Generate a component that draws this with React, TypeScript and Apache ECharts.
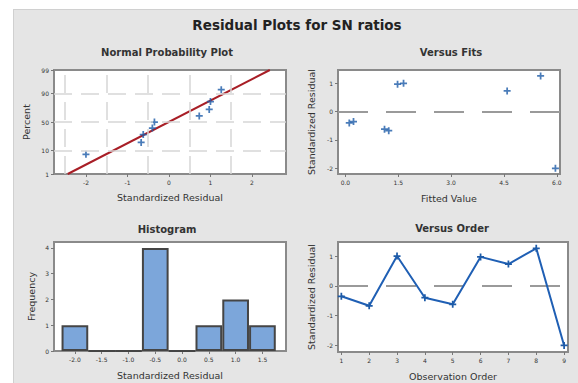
import React, { useEffect, useRef } from "react";
import * as echarts from "echarts";

// ---- data ----
const observationOrder = [1, 2, 3, 4, 5, 6, 7, 8, 9];
const residuals = [-0.35, -0.67, 1.0, -0.4, -0.62, 0.97, 0.73, 1.26, -2.0];
const fittedValues = [0.23, 1.23, 1.65, 0.11, 1.11, 1.48, 4.59, 5.54, 5.96];

const normalResiduals = [-2.0, -0.67, -0.62, -0.4, -0.35, 0.73, 0.97, 1.0, 1.26];
const normalPercents = [7.4, 18.1, 28.7, 39.4, 50.0, 60.6, 71.3, 81.9, 92.6];
const fitLineResiduals = [-2.44, 2.43];
const fitLinePercents = [1, 99];

const binCenters = [-2.0, -1.5, -1.0, -0.5, 0.0, 0.5, 1.0, 1.5];
const frequencies = [1, 0, 0, 4, 0, 1, 2, 1];

const percentTicks = [1, 10, 50, 90, 99];
const normalXTicks = [-2, -1, 0, 1, 2];
const fitXTicks = [0, 1.5, 3.0, 4.5, 6.0];
const residualTicks = [-2, -1, 0, 1];
const histXTicks = [-2.0, -1.5, -1.0, -0.5, 0.0, 0.5, 1.0, 1.5];
const frequencyTicks = [0, 1, 2, 3, 4];

// inverse standard normal CDF (probability-paper axis transform)
function probit(p: number): number {
  const a = [-3.969683028665376e1, 2.209460984245205e2, -2.759285104469687e2, 1.38357751867269e2, -3.066479806614716e1, 2.506628277459239];
  const b = [-5.447609879822406e1, 1.615858368580409e2, -1.556989798598866e2, 6.680131188771972e1, -1.328068155288572e1];
  const c = [-7.784894002430293e-3, -3.223964580411365e-1, -2.400758277161838, -2.549732539343734, 4.374664141464968, 2.938163982698783];
  const d = [7.784695709041462e-3, 3.224671290700398e-1, 2.445134137142996, 3.754408661907416];
  const pl = 0.02425;
  if (p < pl) {
    const q = Math.sqrt(-2 * Math.log(p));
    return (((((c[0] * q + c[1]) * q + c[2]) * q + c[3]) * q + c[4]) * q + c[5]) / ((((d[0] * q + d[1]) * q + d[2]) * q + d[3]) * q + 1);
  }
  if (p > 1 - pl) {
    const q = Math.sqrt(-2 * Math.log(1 - p));
    return -(((((c[0] * q + c[1]) * q + c[2]) * q + c[3]) * q + c[4]) * q + c[5]) / ((((d[0] * q + d[1]) * q + d[2]) * q + d[3]) * q + 1);
  }
  const q = p - 0.5;
  const r = q * q;
  return ((((((a[0] * r + a[1]) * r + a[2]) * r + a[3]) * r + a[4]) * r + a[5]) * q) / (((((b[0] * r + b[1]) * r + b[2]) * r + b[3]) * r + b[4]) * r + 1);
}
const z = (pct: number) => probit(pct / 100);

const FONT = "DejaVu Sans";
const TXT = "#333333";
const BLUE = "#1d5ba8";
const PLUS = "path://M3,0h2v3h3v2h-3v3h-2v-3h-3v-2h3z";

const gridBox = {
  show: true,
  backgroundColor: "#ffffff",
  borderColor: "#8a8a8a",
  borderWidth: 2,
};

const tickLabel = { fontSize: 6, color: TXT, fontFamily: FONT, margin: 5 };
const tickStyle = { show: true, length: 3, lineStyle: { color: "#777", width: 1 } };
const nameStyle = { fontSize: 9.5, color: TXT, fontFamily: FONT };

function xAxisBase(gridIndex: number, min: number, max: number, ticks: number[], fmt: (v: number) => string, name: string, gap: number) {
  return {
    type: "value",
    gridIndex,
    min,
    max,
    position: "bottom",
    axisLine: { show: false, onZero: false },
    axisTick: { ...tickStyle, customValues: ticks },
    axisLabel: { ...tickLabel, customValues: ticks, formatter: (v: number) => fmt(v) },
    splitLine: { show: false },
    name,
    nameLocation: "middle",
    nameGap: gap,
    nameTextStyle: nameStyle,
  };
}
function yAxisBase(gridIndex: number, min: number, max: number, ticks: number[], fmt: (v: number) => string, name: string, gap: number) {
  return {
    type: "value",
    gridIndex,
    min,
    max,
    position: "left",
    axisLine: { show: false, onZero: false },
    axisTick: { ...tickStyle, customValues: ticks },
    axisLabel: { ...tickLabel, customValues: ticks, formatter: (v: number) => fmt(v) },
    splitLine: { show: false },
    name,
    nameLocation: "middle",
    nameRotate: 90,
    nameGap: gap,
    nameTextStyle: nameStyle,
  };
}

function pctLabel(v: number): string {
  let best = percentTicks[0];
  for (const p of percentTicks) if (Math.abs(z(p) - v) < Math.abs(z(best) - v)) best = p;
  return String(best);
}

export default function App() {
  const ref = useRef<HTMLDivElement>(null);
  useEffect(() => {
    if (!ref.current) return;
    const chart = echarts.init(ref.current, undefined, { renderer: "svg" });
    const gridDash = { color: "#d6d6d6", width: 1.5, type: [18, 9] as any };
    const zeroLine = { color: "#9a9a9a", width: 2, type: [30, 18] as any };

    const option: any = {
      animation: false,
      textStyle: { fontFamily: FONT },
      graphic: [
        { type: "text", x: 297, y: 25, style: { text: "Residual Plots for SN ratios", font: `bold 13.5px ${FONT}`, fill: "#222", align: "center", verticalAlign: "middle" } },
        { type: "text", x: 167, y: 52, style: { text: "Normal Probability Plot", font: `bold 10px ${FONT}`, fill: "#333", align: "center", verticalAlign: "middle" } },
        { type: "text", x: 451, y: 52, style: { text: "Versus Fits", font: `bold 10px ${FONT}`, fill: "#333", align: "center", verticalAlign: "middle" } },
        { type: "text", x: 167, y: 229, style: { text: "Histogram", font: `bold 10px ${FONT}`, fill: "#333", align: "center", verticalAlign: "middle" } },
        { type: "text", x: 452, y: 228, style: { text: "Versus Order", font: `bold 10px ${FONT}`, fill: "#333", align: "center", verticalAlign: "middle" } },
      ],
      grid: [
        { ...gridBox, left: 54, top: 70, width: 232, height: 104 },
        { ...gridBox, left: 338, top: 70, width: 222, height: 104 },
        { ...gridBox, left: 54, top: 242, width: 232, height: 109 },
        { ...gridBox, left: 338, top: 242, width: 230, height: 110 },
      ],
      xAxis: [
        xAxisBase(0, -2.77, 2.82, normalXTicks, (v) => String(Math.round(v)), "Standardized Residual", 18),
        xAxisBase(1, -0.21, 6.09, fitXTicks, (v) => v.toFixed(1), "Fitted Value", 19.5),
        xAxisBase(2, -2.39, 1.94, histXTicks, (v) => v.toFixed(1), "Standardized Residual", 19),
        xAxisBase(3, 0.88, 9.14, observationOrder, (v) => String(Math.round(v)), "Observation Order", 19),
      ],
      yAxis: [
        yAxisBase(0, z(1), z(99), percentTicks.map(z), pctLabel, "Percent", 23),
        yAxisBase(1, -2.2, 1.47, residualTicks, (v) => String(Math.round(v)), "Standardized Residual", 22),
        yAxisBase(2, 0, 4.23, frequencyTicks, (v) => String(Math.round(v)), "Frequency", 18),
        yAxisBase(3, -2.22, 1.47, residualTicks, (v) => String(Math.round(v)), "Standardized Residual", 22),
      ],
      series: [
        {
          type: "line",
          xAxisIndex: 0,
          yAxisIndex: 0,
          data: [],
          silent: true,
          markLine: {
            silent: true,
            symbol: "none",
            label: { show: false },
            lineStyle: gridDash,
            data: [
              ...[10, 50, 90].map((p) => ({ yAxis: z(p) })),
              ...[-2.5, -1.5, -0.5, 0.5, 1.5].map((x) => ({ xAxis: x })),
            ],
          },
        },
        {
          type: "line",
          xAxisIndex: 0,
          yAxisIndex: 0,
          data: fitLineResiduals.map((r, i) => [r, z(fitLinePercents[i])]),
          showSymbol: false,
          lineStyle: { color: "#a81e26", width: 2 },
          z: 3,
        },
        {
          type: "scatter",
          xAxisIndex: 0,
          yAxisIndex: 0,
          data: normalResiduals.map((r, i) => [r, z(normalPercents[i])]),
          symbol: PLUS,
          symbolSize: 7,
          itemStyle: { color: BLUE },
          z: 4,
        },
        {
          type: "scatter",
          xAxisIndex: 1,
          yAxisIndex: 1,
          data: fittedValues.map((f, i) => [f, residuals[i]]),
          symbol: PLUS,
          symbolSize: 7,
          itemStyle: { color: BLUE },
          z: 4,
          markLine: {
            silent: true,
            symbol: "none",
            label: { show: false },
            lineStyle: zeroLine,
            data: [{ yAxis: 0 }],
          },
        },
        {
          type: "bar",
          xAxisIndex: 2,
          yAxisIndex: 2,
          data: binCenters.map((c, i) => [c, frequencies[i]]),
          barWidth: 26.7,
          itemStyle: { color: "#7ca6da", borderColor: "#454545", borderWidth: 2 },
        },
        {
          type: "line",
          xAxisIndex: 3,
          yAxisIndex: 3,
          data: observationOrder.map((o, i) => [o, residuals[i]]),
          symbol: PLUS,
          symbolSize: 7,
          showAllSymbol: true,
          itemStyle: { color: BLUE },
          lineStyle: { color: "#1f5fb4", width: 2 },
          z: 4,
          markLine: {
            silent: true,
            symbol: "none",
            label: { show: false },
            lineStyle: zeroLine,
            data: [{ yAxis: 0 }],
            z: 2,
          },
        },
      ],
    };
    chart.setOption(option);
    return () => chart.dispose();
  }, []);

  return (
    <div style={{ position: "fixed", left: 0, top: 0, width: 578, height: 383, background: "#ffffff", overflow: "hidden" }}>
      <div
        style={{
          position: "absolute",
          left: 13,
          top: 9,
          right: 0,
          bottom: 0,
          background: "#e5e5e5",
          borderLeft: "1px solid #d0d0d0",
          borderTop: "1px solid #d0d0d0",
        }}
      />
      <div ref={ref} style={{ position: "absolute", left: 0, top: 0, width: 578, height: 383 }} />
    </div>
  );
}
